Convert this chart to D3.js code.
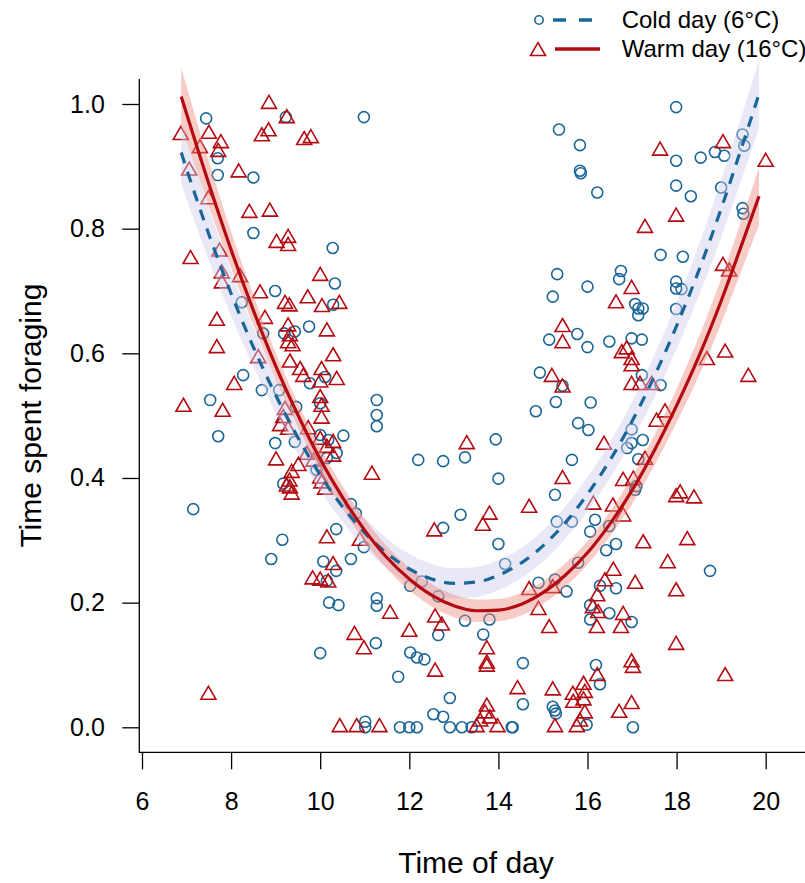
<!DOCTYPE html>
<html><head><meta charset="utf-8">
<script src="https://cdn.jsdelivr.net/npm/d3@7"></script>
<style>
body{margin:0;background:#fff}
svg{display:block}
text{font-family:"Liberation Sans",Arial,Helvetica,sans-serif;fill:#000}
</style>
</head><body>
<svg id="c" width="805" height="883"></svg>
<script>
// ---- data ----
const xTicks=[6,8,10,12,14,16,18,20];
const yTicks=[0,0.2,0.4,0.6,0.8,1.0];
const seriesNames=["Cold day (6\u00B0C)","Warm day (16\u00B0C)"];

const coldHour=[7.44,9.23,10.98,7.70,7.70,8.50,8.50,10.28,10.33,8.99,8.24,10.29,9.75,9.43,8.72,9.19,8.27,8.69,9.08,9.77,10.11,7.53,9.46,10.00,11.27,11.27,11.27,7.71,8.99,9.43,10.00,10.18,10.52,10.37,10.15,9.92,9.17,7.15,10.69,10.80,10.36,10.98,9.15,8.90,10.07,10.69,10.36,10.15,10.20,10.41,11.27,11.27,10.00,11.25,11.01,11.01,
12.20,12.76,13.25,13.94,14.00,14.84,15.29,15.44,15.79,16.02,15.65,15.27,15.31,15.65,16.06,13.15,12.76,14.00,14.15,15.79,14.90,15.27,15.53,12.02,12.28,12.65,13.25,13.80,13.66,12.65,12.02,12.17,12.34,11.75,14.55,12.91,12.54,12.76,14.55,15.22,15.27,15.29,11.79,12.00,12.17,12.91,13.18,13.40,14.30,14.32,
17.99,15.36,15.83,15.83,15.85,16.22,17.99,18.54,18.86,19.07,19.48,19.52,17.99,18.32,19.00,19.48,19.50,17.64,18.14,15.32,16.75,16.71,16.00,15.22,17.99,17.99,18.11,17.07,17.14,17.24,17.14,17.99,15.14,15.77,16.00,16.49,16.99,17.22,14.93,17.22,17.64,
16.07,16.99,17.24,16.99,16.89,17.14,17.10,17.07,16.17,16.49,16.64,16.42,18.75,16.28,16.64,16.06,16.06,16.49,16.99,16.19,16.28,15.98,17.02];
const coldValue=[0.977,0.979,0.979,0.913,0.886,0.882,0.793,0.769,0.712,0.700,0.682,0.678,0.643,0.635,0.632,0.632,0.565,0.541,0.541,0.552,0.562,0.525,0.514,0.520,0.525,0.501,0.483,0.467,0.456,0.458,0.469,0.461,0.468,0.440,0.432,0.413,0.391,0.350,0.358,0.343,0.318,0.289,0.301,0.270,0.266,0.270,0.251,0.235,0.200,0.196,0.207,0.195,0.119,0.135,0.009,0.000,
0.429,0.427,0.433,0.462,0.399,0.507,0.522,0.548,0.488,0.477,0.429,0.373,0.330,0.330,0.314,0.341,0.320,0.294,0.262,0.264,0.232,0.237,0.218,0.227,0.234,0.210,0.171,0.173,0.149,0.148,0.120,0.112,0.109,0.081,0.103,0.047,0.021,0.017,0.037,0.033,0.027,0.022,0,0,0,0,0,0,0,0,
0.995,0.959,0.934,0.893,0.889,0.858,0.909,0.914,0.923,0.917,0.951,0.933,0.869,0.852,0.866,0.833,0.824,0.758,0.755,0.727,0.732,0.719,0.707,0.691,0.715,0.704,0.703,0.679,0.672,0.672,0.661,0.671,0.622,0.631,0.610,0.619,0.624,0.622,0.569,0.565,0.549,
0.521,0.478,0.461,0.456,0.448,0.430,0.387,0.381,0.333,0.323,0.294,0.284,0.251,0.227,0.223,0.196,0.173,0.183,0.169,0.100,0.069,0.004,0];

const warmHour=[8.85,6.87,7.50,7.77,7.71,7.30,9.25,8.84,8.69,9.64,9.79,7.06,8.17,7.49,8.41,8.87,9.02,9.28,9.28,7.09,7.74,7.79,7.79,8.20,10.00,8.65,9.21,9.31,9.72,10.04,10.43,7.68,8.76,9.28,9.32,9.28,9.38,10.15,7.68,10.29,8.61,
9.32,9.55,9.62,10.03,10.00,10.37,8.07,6.93,7.81,10.00,10.03,10.03,9.21,9.17,9.10,9.28,9.73,10.00,10.29,10.15,10.29,9.70,9.85,9.51,9.01,9.36,9.31,9.32,9.36,9.25,10.00,10.03,10.11,11.16,10.15,10.89,10.29,9.83,10.00,10.18,10.77,10.98,7.49,10.44,10.82,11.33,
15.44,13.29,14.69,15.44,13.80,13.65,12.56,16.13,14.69,15.22,14.90,15.14,11.57,12.58,12.73,12.00,13.74,13.74,13.74,12.58,14.43,15.22,15.67,15.68,15.91,15.94,15.91,13.74,13.70,13.59,13.81,13.98,13.51,15.27,15.76,15.94,15.83,
17.63,19.04,20.00,17.99,17.29,19.04,19.18,16.99,16.64,15.44,15.44,18.68,19.09,19.61,16.77,16.88,16.99,16.99,15.20,16.99,17.18,17.44,
17.74,17.55,16.37,17.29,16.80,17.03,18.08,17.99,18.39,16.57,16.80,17.25,18.24,17.80,16.58,16.39,17.07,17.99,16.22,16.12,16.24,16.80,16.21,16.75,17.99,16.99,17.02,19.09,16.22,16.99,16.71];
const warmValue=[1.000,0.950,0.952,0.937,0.923,0.929,0.977,0.956,0.948,0.942,0.945,0.893,0.890,0.847,0.825,0.827,0.777,0.785,0.772,0.751,0.763,0.728,0.712,0.722,0.724,0.696,0.679,0.675,0.688,0.674,0.679,0.652,0.655,0.643,0.627,0.616,0.611,0.635,0.608,0.595,0.592,
0.585,0.573,0.562,0.573,0.553,0.557,0.549,0.514,0.506,0.528,0.514,0.495,0.509,0.496,0.483,0.477,0.478,0.461,0.456,0.448,0.434,0.437,0.426,0.419,0.428,0.408,0.394,0.383,0.373,0.386,0.399,0.391,0.381,0.405,0.303,0.299,0.260,0.237,0.235,0.232,0.148,0.125,0.052,0,0,0,
0.545,0.454,0.352,0.398,0.341,0.323,0.314,0.357,0.220,0.223,0.188,0.159,0.182,0.176,0.163,0.153,0.125,0.102,0.097,0.089,0.061,0.059,0.052,0.039,0.068,0.055,0.043,0.033,0.022,0.009,0.014,0,0,0,0,0.022,0.009,
0.925,0.937,0.907,0.819,0.801,0.740,0.731,0.703,0.680,0.642,0.616,0.589,0.601,0.562,0.600,0.606,0.589,0.579,0.562,0.549,0.549,0.549,
0.505,0.490,0.453,0.429,0.395,0.397,0.375,0.369,0.367,0.354,0.338,0.295,0.300,0.263,0.251,0.234,0.230,0.218,0.210,0.191,0.183,0.180,0.159,0.159,0.132,0.104,0.095,0.082,0.082,0.037,0.023];

// fitted curves and half-widths of their confidence bands
const fitHour=[6.88,7.5,8,8.5,9,9.5,10,10.5,11,11.5,12,12.5,13,13.5,14,14.5,15,15.5,16,16.5,17,17.5,18,18.5,19,19.5,19.85];
const coldFit=[0.922,0.791,0.696,0.610,0.533,0.465,0.405,0.354,0.312,0.279,0.254,0.238,0.231,0.233,0.244,0.263,0.291,0.328,0.374,0.428,0.491,0.563,0.644,0.733,0.832,0.939,1.016];
const coldHalf=[0.050,0.042,0.036,0.031,0.028,0.026,0.025,0.024,0.024,0.024,0.024,0.024,0.024,0.024,0.024,0.024,0.025,0.026,0.027,0.029,0.031,0.034,0.037,0.041,0.046,0.051,0.055];
const warmFit=[1.012,0.872,0.766,0.669,0.580,0.501,0.430,0.369,0.316,0.272,0.238,0.212,0.195,0.187,0.188,0.197,0.216,0.244,0.280,0.326,0.380,0.444,0.516,0.595,0.684,0.782,0.852];
const warmHalf=[0.046,0.036,0.029,0.024,0.021,0.019,0.018,0.018,0.018,0.018,0.018,0.018,0.018,0.018,0.018,0.018,0.018,0.019,0.019,0.020,0.022,0.024,0.027,0.031,0.036,0.041,0.046];

// ---- drawing ----
const W=805,H=883;
const svg=d3.select("#c");
const x=d3.scaleLinear().domain([6,20]).range([142,765.7]);
const y=d3.scaleLinear().domain([0,1]).range([727.3,104]);
const blue="#1b6698", red="#b30b12";
const boxLeft=139.3, boxBottom=752.3, boxTop=y(1.04), boxRight=813;

const clip=svg.append("defs").append("clipPath").attr("id","pc")
  .append("rect").attr("x",boxLeft).attr("y",boxTop-10).attr("width",boxRight-boxLeft).attr("height",boxBottom-boxTop+10);

const plot=svg.append("g");

// points
const cold=coldHour.map((h,i)=>({h,v:coldValue[i]}));
const warm=warmHour.map((h,i)=>({h,v:warmValue[i]}));
plot.append("g").selectAll("circle").data(cold).join("circle")
  .attr("cx",d=>x(d.h)).attr("cy",d=>y(d.v)).attr("r",5.5)
  .attr("fill","none").attr("stroke",blue).attr("stroke-width",1.6);
const tri=d3.symbol(d3.symbolTriangle,97.5);
plot.append("g").selectAll("path").data(warm).join("path")
  .attr("transform",d=>`translate(${x(d.h)},${y(d.v)})`).attr("d",tri)
  .attr("fill","none").attr("stroke",red).attr("stroke-width",1.6).attr("stroke-linejoin","miter");

// bands
const band=(fit,half)=>d3.area().curve(d3.curveMonotoneX)
  .x((d,i)=>x(fitHour[i])).y0((d,i)=>y(fit[i]-half[i])).y1((d,i)=>y(fit[i]+half[i]));
plot.append("path").datum(fitHour).attr("d",band(coldFit,coldHalf)(fitHour))
  .attr("fill","rgb(205,205,238)").attr("fill-opacity",0.45);
plot.append("path").datum(fitHour).attr("d",band(warmFit,warmHalf)(fitHour))
  .attr("fill","rgb(238,140,128)").attr("fill-opacity",0.45);

// lines
const line=fit=>d3.line().curve(d3.curveMonotoneX).x((d,i)=>x(fitHour[i])).y((d,i)=>y(fit[i]));
plot.append("path").attr("d",line(coldFit)(fitHour)).attr("fill","none")
  .attr("stroke",blue).attr("stroke-width",3.2).attr("stroke-dasharray","11,9");
plot.append("path").attr("d",line(warmFit)(fitHour)).attr("fill","none")
  .attr("stroke",red).attr("stroke-width",3.2);

// box (L shape)
svg.append("path").attr("d",`M${boxLeft},${boxTop}V${boxBottom}H${W+5}`)
  .attr("fill","none").attr("stroke","#000").attr("stroke-width",1.3);

// axes
const ax=svg.append("g").attr("transform",`translate(0,${boxBottom})`)
  .call(d3.axisBottom(x).tickValues(xTicks).tickSize(17).tickPadding(22.5).tickFormat(d3.format("d")));
const ay=svg.append("g").attr("transform",`translate(${boxLeft},0)`)
  .call(d3.axisLeft(y).tickValues(yTicks).tickSize(17).tickPadding(17.5).tickFormat(d3.format(".1f")));
[ax,ay].forEach(g=>{
  g.select(".domain").remove();
  g.selectAll(".tick line").attr("stroke","#000").attr("stroke-width",1.3);
  g.selectAll(".tick text").attr("font-size",25).attr("fill","#000")
    .style("font-family",'"Liberation Sans",Arial,sans-serif');
});

// titles
svg.append("text").attr("x",476).attr("y",862).attr("dy","0.35em")
  .attr("text-anchor","middle").attr("font-size",30).text("Time of day");
svg.append("text").attr("transform","translate(30,415.6) rotate(-90)").attr("dy","0.35em")
  .attr("text-anchor","middle").attr("font-size",30).text("Time spent foraging");

// legend
const lg=svg.append("g");
lg.append("circle").attr("cx",539).attr("cy",20).attr("r",4.2)
  .attr("fill","none").attr("stroke",blue).attr("stroke-width",1.6);
lg.append("line").attr("x1",553).attr("x2",593).attr("y1",20).attr("y2",20)
  .attr("stroke",blue).attr("stroke-width",3.4).attr("stroke-dasharray","13,13");
lg.append("path").attr("transform","translate(538,51.2)").attr("d",tri)
  .attr("fill","none").attr("stroke",red).attr("stroke-width",1.6);
lg.append("line").attr("x1",555).attr("x2",600).attr("y1",49).attr("y2",49)
  .attr("stroke",red).attr("stroke-width",3.4);
lg.selectAll("text").data(seriesNames).join("text")
  .attr("x",621.7).attr("y",(d,i)=>i===0?19.5:49).attr("dy","0.35em")
  .attr("font-size",24).text(d=>d);
</script>
</body></html>
